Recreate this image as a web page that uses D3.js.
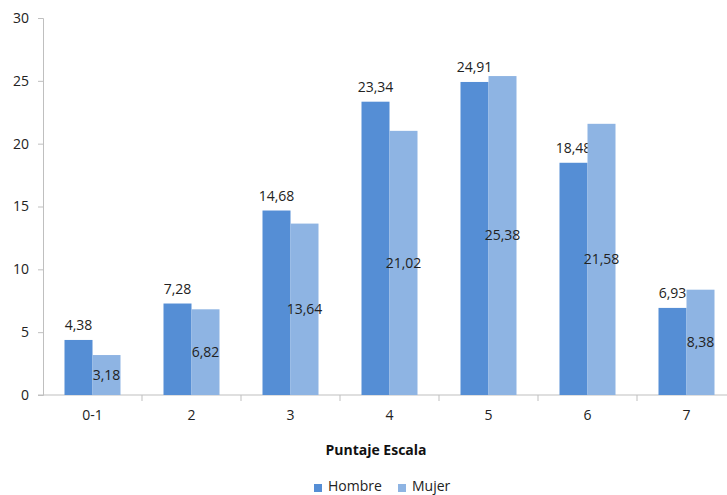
<!DOCTYPE html>
<html><head><meta charset="utf-8">
<script src="https://cdn.jsdelivr.net/npm/d3@7"></script>
<style>body{margin:0;background:#fff}svg{display:block}text{font-family:"Open Sans","Noto Sans",sans-serif}</style>
</head><body><svg id="c" width="727" height="495"></svg>
<script>
const categories = ["0-1","2","3","4","5","6","7"];
const series = ["Hombre","Mujer"];
const hombre = [4.38,7.28,14.68,23.34,24.91,18.48,6.93];
const mujer = [3.18,6.82,13.64,21.02,25.38,21.58,8.38];
const yTicks = [0,5,10,15,20,25,30];
const colors = ["#558ED5","#8EB4E3"];

const svg = d3.select("#c");
const m = {l:43, t:18, r:-9, b:100};
const W = 727, H = 495;
const x = d3.scaleBand().domain(categories).range([m.l, W - m.r]).paddingInner(0).paddingOuter(0);
const y = d3.scaleLinear().domain([0,30]).range([395, 18]);
const fmt = v => v.toFixed(2).replace(".", ",");
const data = categories.map((c,i)=>({c, vals:[hombre[i], mujer[i]]}));
const barW = 28;
const fs = 14;

// axes
const ya = svg.append("g").attr("transform",`translate(${m.l},0)`)
  .call(d3.axisLeft(y).tickValues(yTicks).tickSize(5).tickPadding(9));
ya.select(".domain").attr("stroke","#bfbfbf");
ya.selectAll(".tick line").attr("stroke","#bfbfbf");
ya.selectAll("text").attr("font-size",fs).attr("fill","#222");

const xa = svg.append("g").attr("transform",`translate(0,${y(0)})`)
  .call(d3.axisBottom(x).tickSize(0).tickPadding(15));
xa.select(".domain").attr("stroke","#bfbfbf").attr("d",`M${m.l-5},0H${W - m.r}`);
xa.selectAll("text").attr("font-size",fs).attr("fill","#222");
svg.append("g").selectAll("line").data(categories.slice(1)).join("line")
  .attr("x1",d=>x(d)).attr("x2",d=>x(d)).attr("y1",y(0)).attr("y2",y(0)+6)
  .attr("stroke","#bfbfbf");

// bars
const g = svg.append("g");
data.forEach(d=>{
  const cx = x(d.c) + x.bandwidth()/2;
  d.vals.forEach((v,j)=>{
    const bx = cx - barW + j*barW;
    g.append("rect").attr("x",bx).attr("y",y(v)).attr("width",barW).attr("height",y(0)-y(v)).attr("fill",colors[j]);
    const t = g.append("text").attr("x",bx+barW/2).attr("text-anchor","middle").attr("font-size",fs).attr("fill","#222").text(fmt(v));
    if(j===0) t.attr("y",y(v)-10);
    else t.attr("y",(y(v)+y(0))/2).attr("dy","0.35em");
  });
});

svg.append("text").attr("x",376).attr("y",455).attr("text-anchor","middle").attr("font-size",14).attr("font-weight","bold").attr("fill","#111").text("Puntaje Escala");

// legend
const lg = svg.append("g");
const lx = [314, 398];
series.forEach((s,i)=>{
  lg.append("rect").attr("x",lx[i]).attr("y",484).attr("width",8).attr("height",8).attr("fill",colors[i]);
  lg.append("text").attr("x",lx[i]+14).attr("y",491).attr("font-size",14).attr("fill","#222").text(s);
});
</script></body></html>
